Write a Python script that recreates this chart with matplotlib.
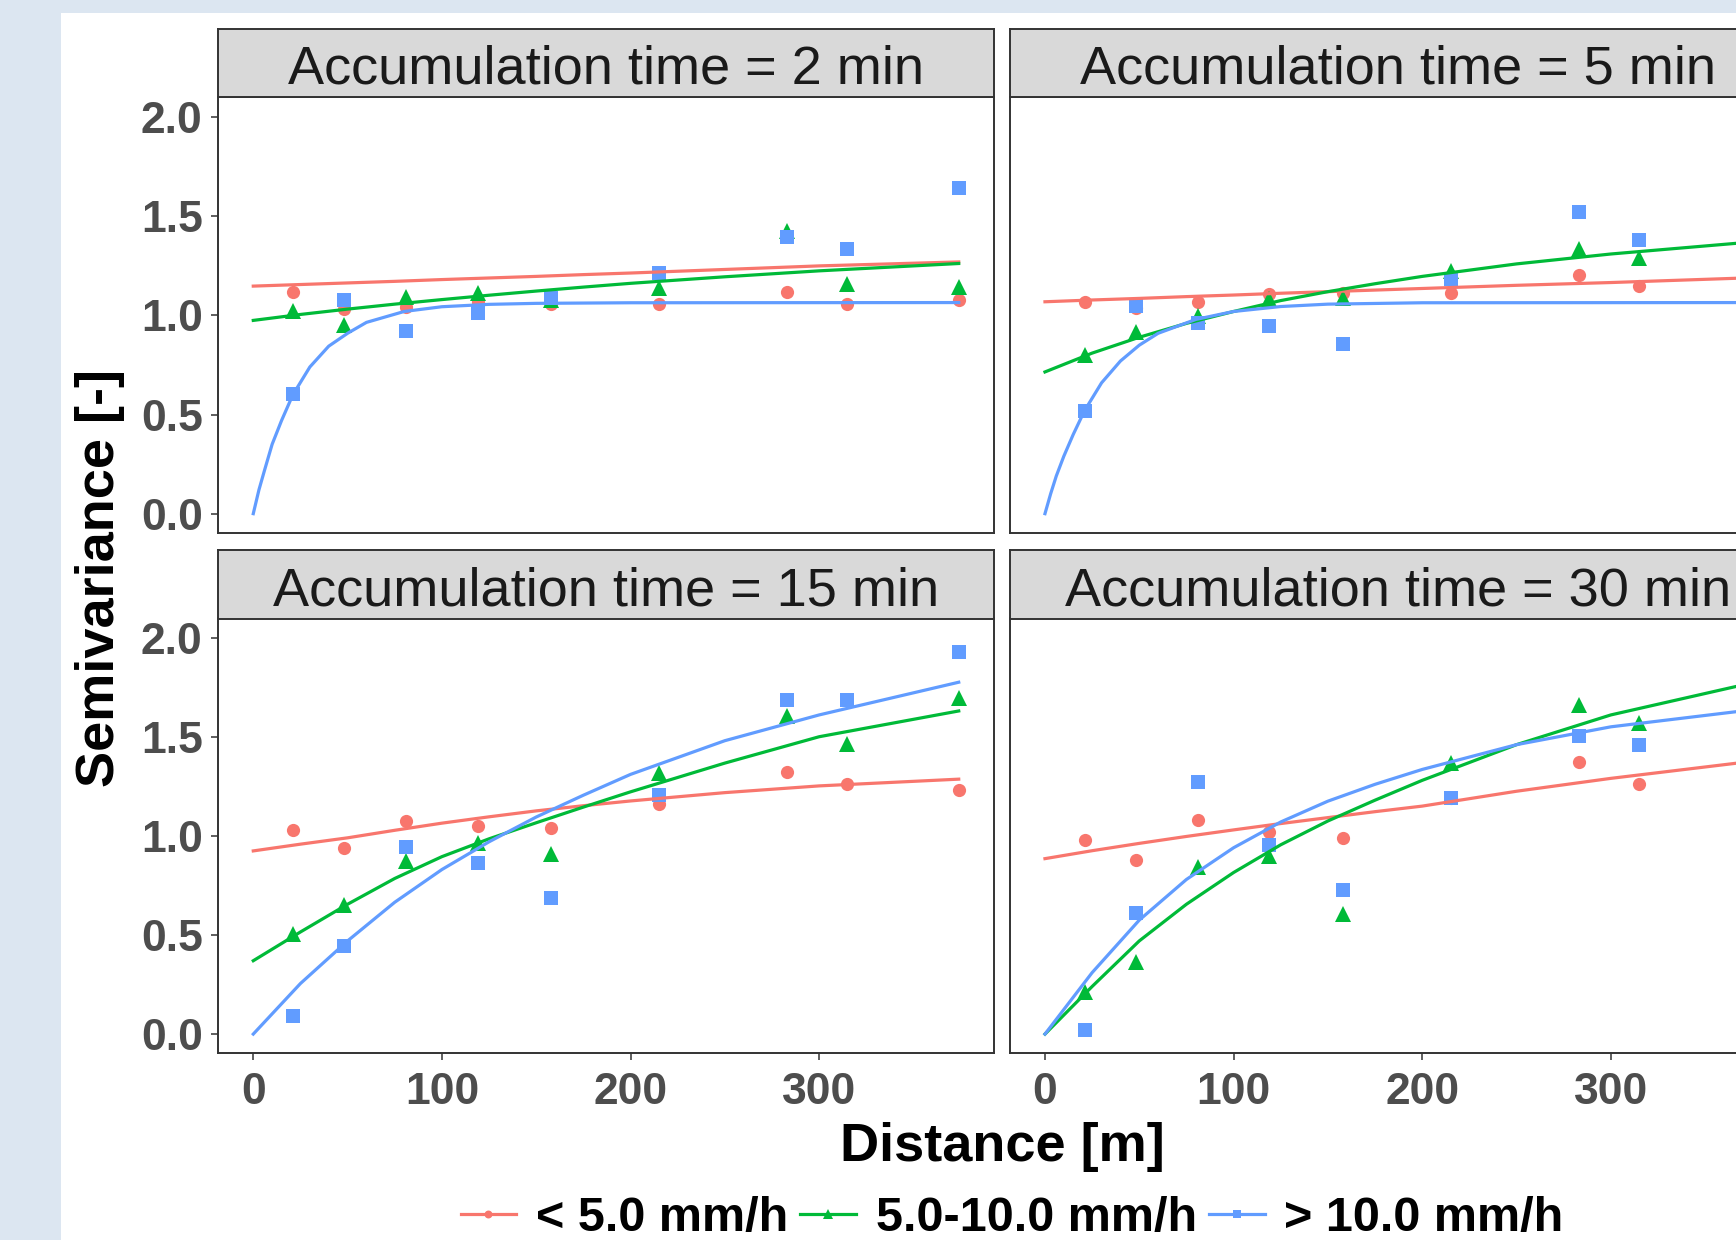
import matplotlib
matplotlib.use('Agg')
import matplotlib.pyplot as plt
from matplotlib.lines import Line2D
from matplotlib.patches import Rectangle

# lag distances [m], same for every panel
lags = [21, 48, 81, 119, 158, 215, 283, 315, 374]

panel_titles = ['Accumulation time = 2 min', 'Accumulation time = 5 min',
                'Accumulation time = 15 min', 'Accumulation time = 30 min']
class_labels = ['< 5.0 mm/h', '5.0-10.0 mm/h', '> 10.0 mm/h']

# empirical semivariances per panel: low / mid / high intensity
pts_2 = {'low':  [1.12, 1.03, 1.045, 1.07, 1.06, 1.06, 1.12, 1.06, 1.08],
         'mid':  [1.02, 0.95, 1.095, 1.112, 1.08, 1.14, 1.425, 1.158, 1.146],
         'high': [0.603, 1.078, 0.92, 1.013, 1.09, 1.215, 1.395, 1.333, 1.645]}
pts_5 = {'low':  [1.069, 1.04, 1.07, 1.109, 1.115, 1.112, 1.205, 1.148, 1.18],
         'mid':  [0.798, 0.915, 0.995, 1.082, 1.09, 1.222, 1.337, 1.29, 1.36],
         'high': [0.517, 1.046, 0.96, 0.948, 0.857, 1.186, 1.524, 1.379, 1.30]}
pts_15 = {'low':  [1.03, 0.937, 1.073, 1.052, 1.04, 1.163, 1.323, 1.262, 1.233],
          'mid':  [0.505, 0.652, 0.873, 0.965, 0.909, 1.315, 1.603, 1.465, 1.697],
          'high': [0.092, 0.443, 0.945, 0.862, 0.685, 1.206, 1.683, 1.683, 1.927]}
pts_30 = {'low':  [0.98, 0.878, 1.081, 1.018, 0.99, 1.19, 1.373, 1.263, 1.30],
          'mid':  [0.21, 0.363, 0.843, 0.898, 0.605, 1.37, 1.658, 1.57, 1.75],
          'high': [0.02, 0.612, 1.273, 0.952, 0.727, 1.192, 1.503, 1.457, 1.60]}

# fitted variogram curves
fit_x = [0, 25, 50, 75, 100, 125, 150, 175, 200, 250, 300, 374]
fit_x_fine = [0, 3, 6, 10, 15, 21, 30, 40, 50, 60, 80, 100, 125, 150, 200, 374]

fit_2 = {'low':  [1.148, 1.156, 1.164, 1.172, 1.181, 1.189, 1.197, 1.206, 1.214, 1.232, 1.25, 1.27],
         'mid':  [0.975, 1.005, 1.032, 1.057, 1.08, 1.102, 1.123, 1.143, 1.162, 1.195, 1.225, 1.262],
         'high': [0.0, 0.12, 0.22, 0.35, 0.47, 0.60, 0.74, 0.845, 0.91, 0.965, 1.02, 1.044, 1.056, 1.061, 1.064, 1.065]}
fit_5 = {'low':  [1.069, 1.078, 1.086, 1.095, 1.103, 1.112, 1.12, 1.128, 1.136, 1.152, 1.166, 1.19],
         'mid':  [0.715, 0.81, 0.89, 0.96, 1.02, 1.075, 1.12, 1.16, 1.197, 1.26, 1.31, 1.37],
         'high': [0.0, 0.1, 0.19, 0.29, 0.40, 0.52, 0.66, 0.77, 0.85, 0.91, 0.98, 1.02, 1.045, 1.057, 1.064, 1.065]}
fit_15 = {'low':  [0.924, 0.958, 0.99, 1.028, 1.064, 1.096, 1.126, 1.152, 1.176, 1.218, 1.252, 1.286],
          'mid':  [0.37, 0.515, 0.655, 0.785, 0.895, 0.985, 1.066, 1.145, 1.222, 1.367, 1.50, 1.63],
          'high': [0.0, 0.255, 0.47, 0.665, 0.83, 0.97, 1.095, 1.205, 1.31, 1.48, 1.61, 1.775]}
fit_30 = {'low':  [0.885, 0.925, 0.962, 0.997, 1.03, 1.062, 1.092, 1.122, 1.15, 1.225, 1.29, 1.375],
          'mid':  [0.0, 0.24, 0.47, 0.655, 0.815, 0.955, 1.075, 1.18, 1.28, 1.46, 1.61, 1.77],
          'high': [0.0, 0.31, 0.575, 0.78, 0.94, 1.07, 1.175, 1.26, 1.335, 1.46, 1.55, 1.635]}

points = [pts_2, pts_5, pts_15, pts_30]
fits = [fit_2, fit_5, fit_15, fit_30]
steep = [True, True, False, False]   # blue curve on the fine grid in the top row

colors = {'low': '#F8766D', 'mid': '#00BA38', 'high': '#619CFF'}
markers = {'low': 'o', 'mid': '^', 'high': 's'}
msize = {'low': 9.5, 'mid': 11.5, 'high': 10.5}

W, H = 1736, 1240
fig = plt.figure(figsize=(W / 100, H / 100), dpi=100)
fig.patch.set_facecolor('#dce6f1')
fig.patches.append(Rectangle((61 / W, 0), 1, 1 - 13 / H, transform=fig.transFigure,
                             facecolor='white', edgecolor='none', zorder=-1))

def px_axes(left, top, width, height):
    return fig.add_axes([left / W, 1 - (top + height) / H, width / W, height / H])

col_left = [218, 1009.7]
strip_top = [28.8, 550]
panel_top = [97.4, 617.8]
pw, ph, sh = 776, 435.1, 68.6
edge = '#333333'
tick_font = dict(family='Liberation Sans', weight='bold', size=32)

for i in range(4):
    r, c = divmod(i, 2)
    ax = px_axes(col_left[c], panel_top[r], pw, ph)
    for key in ['low', 'mid', 'high']:
        ax.plot(lags, points[i][key], linestyle='none', marker=markers[key],
                markersize=msize[key], color=colors[key], markeredgewidth=0)
    for key in ['low', 'mid', 'high']:
        xs = fit_x_fine if (key == 'high' and steep[i]) else fit_x
        ax.plot(xs, fits[i][key], color=colors[key], linewidth=2.3)
    ax.set_xlim(-18.7, 392.7)
    ax.set_ylim(-0.095, 2.1)
    ax.set_xticks([0, 100, 200, 300])
    ax.set_yticks([0.0, 0.5, 1.0, 1.5, 2.0])
    for s in ax.spines.values():
        s.set_color(edge)
        s.set_linewidth(1.4)
    ax.tick_params(direction='out', length=5, width=1.1, color=edge,
                   labelcolor='#4d4d4d', pad=6)
    ax.tick_params(axis='x', pad=9)
    if c == 0:
        ax.set_yticklabels(['0.0', '0.5', '1.0', '1.5', '2.0'], **tick_font)
    else:
        ax.tick_params(axis='y', left=False, labelleft=False)
    if r == 1:
        ax.set_xticklabels(['0', '100', '200', '300'], **tick_font)
    else:
        ax.tick_params(axis='x', bottom=False, labelbottom=False)

    sx = px_axes(col_left[c], strip_top[r], pw, sh)
    sx.set_facecolor('#d9d9d9')
    sx.set_xticks([])
    sx.set_yticks([])
    for s in sx.spines.values():
        s.set_color(edge)
        s.set_linewidth(1.4)
    sx.text(0.5, 0.40, panel_titles[i], transform=sx.transAxes, ha='center', va='center',
            family='Liberation Sans', size=39, color='#1a1a1a')

fig.text(100 / W, 1 - 578 / H, 'Semivariance [-]', rotation=90, ha='center', va='center',
         family='Liberation Sans', weight='bold', size=39, color='black')
fig.text(1002 / W, 1 - 1147 / H, 'Distance [m]', ha='center', va='center',
         family='Liberation Sans', weight='bold', size=39, color='black')

handles = [Line2D([], [], color=colors[k], marker=markers[k], markersize=msize[k] * 0.6,
                  markeredgewidth=0, linewidth=2.3) for k in ['low', 'mid', 'high']]
fig.legend(handles, class_labels, loc='center', bbox_to_anchor=(1012 / W, 1 - 1219 / H),
           ncol=3, frameon=False, handlelength=1.15, handletextpad=0.4, columnspacing=0.25,
           borderpad=0.1, prop=dict(family='Liberation Sans', weight='bold', size=35))

fig.savefig('out.png', dpi=100, facecolor=fig.get_facecolor())
